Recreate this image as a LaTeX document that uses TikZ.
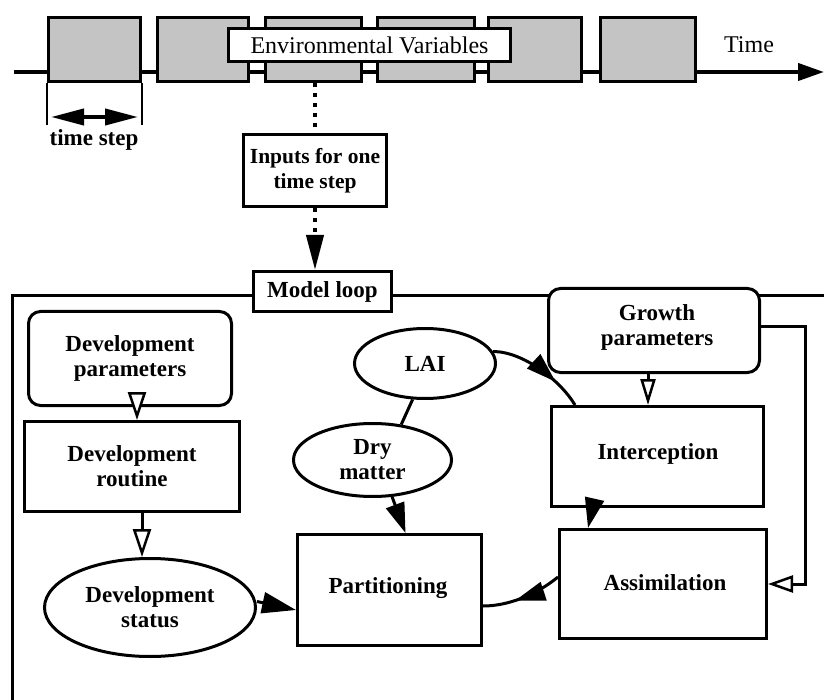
\documentclass[tikz,border=0pt]{standalone}
\usepackage{fontspec}
\setmainfont{Liberation Serif}
\usetikzlibrary{arrows.meta,shapes.geometric,decorations.markings}
\definecolor{boxgray}{HTML}{C4C4C4}
\begin{document}
\begin{tikzpicture}[x=1pt,y=-1pt,
  every node/.style={font=\fontsize{23}{25}\selectfont\bfseries, align=center, inner sep=0pt},
  plain/.style={font=\fontsize{24}{26}\selectfont},
  box/.style={draw, line width=3pt, fill=white, rectangle},
  rbox/.style={box, rounded corners=12pt},
  oval/.style={draw, line width=3pt, fill=white, ellipse},
  gbox/.style={draw, line width=3pt, fill=boxgray, rectangle, minimum height=64pt, minimum width=#1},
  conn/.style={line width=3pt},
  solidtip/.style={conn, -{Triangle[length=30pt,width=19pt]}},
  opentip/.style={conn, -{Triangle[open,fill=white,length=28pt,width=18pt,line width=2.5pt]}},
  dotline/.style={line width=4pt, dash pattern=on 4pt off 6pt},
  midarrow/.style={conn, postaction={decorate}, decoration={markings,
      mark=at position #1 with {\arrow{Triangle[length=30pt,width=19pt]}}}}
]
\useasboundingbox (0,0) rectangle (824,700);

% time line
\coordinate (tlstart) at (14,72);
\coordinate (tlend) at (824,72);
\draw[line width=4pt, -{Triangle[length=26pt,width=17pt]}] (tlstart) -- (tlend);

\node[gbox=92pt] (g1) at (94.5,49.5) {};
\node[gbox=91pt] (g2) at (203,49.5) {};
\node[gbox=96pt] (g3) at (313.5,49.5) {};
\node[gbox=97pt] (g4) at (426,49.5) {};
\node[gbox=93pt] (g5) at (535,49.5) {};
\node[gbox=95pt] (g6) at (648,49.5) {};

\node[box, plain, minimum width=282pt, minimum height=33pt] (env) at (369.5,45) {Environmental Variables};
\node[plain] (timelbl) at (749,45) {Time};

% time step
\draw[line width=1.5pt] (g1.south west) -- ++(0,42);
\draw[line width=1.5pt] (g1.south east) -- ++(0,42);
\coordinate (ts1) at (51,117);
\coordinate (ts2) at (138,117);
\draw[line width=4pt, {Triangle[length=33pt,width=16pt]}-{Triangle[length=33pt,width=16pt]}] (ts1) -- (ts2);
\node (tslbl) at (94,140) {time step};

% inputs
\node[box, minimum width=143pt, minimum height=72pt, font=\fontsize{21.5}{25}\selectfont\bfseries] (inputs) at (315,170.5) {Inputs for one\\time step};
\draw[dotline] (inputs.north |- g3.south) -- (inputs.north);

% frame
\coordinate (fr1) at (12,700);
\coordinate (fr2) at (12,296);
\coordinate (fr3) at (824,296);
\draw[line width=3pt] (fr1) -- (fr2) -- (fr3);

\node[box, minimum width=138pt, minimum height=40pt] (mloop) at (322.5,291.5) {Model loop};
\draw[dotline, -{Triangle[length=35pt,width=17pt]}] (inputs.south) -- (inputs.south |- mloop.north);

% development side
\node[rbox, minimum width=203pt, minimum height=94pt] (dparams) at (130,358.5) {Development\\parameters};
\node[box, minimum width=215pt, minimum height=90pt] (droutine) at (132,466.5) {Development\\routine};
\node[oval, minimum width=211pt, minimum height=98pt] (dstatus) at (150,607.5) {Development\\status};
\node[box, minimum width=184pt, minimum height=111pt] (partition) at (389.5,590) {};
\node (partlbl) at (388,588) {Partitioning};

% growth side
\node[oval, minimum width=158pt, minimum height=73pt] (dry) at (372.5,460) {Dry\\matter};
\node[oval, minimum width=141pt, minimum height=70pt] (lai) at (425,363.5) {LAI};
\node[rbox, minimum width=211pt, minimum height=84pt] (growth) at (654,330.5) {};
\node (growthlbl) at (657,327) {Growth\\parameters};
\node[box, minimum width=212pt, minimum height=100pt] (intercept) at (657.5,456.5) {};
\node (intlbl) at (658,454) {Interception};
\node[box, minimum width=207pt, minimum height=109pt] (assim) at (663,584) {};
\node (assimlbl) at (665,583) {Assimilation};

% connectors
\draw[opentip] ([xshift=7pt]dparams.south) -- ([xshift=5pt]droutine.north);
\draw[opentip] ([xshift=10pt]droutine.south) -- ([xshift=-8pt]dstatus.north);
\draw[conn, -{Triangle[length=34pt,width=21pt]}] ([yshift=6pt]dstatus.east) -- ([yshift=-20pt]partition.west);
\draw[solidtip] (dry.-62) -- ([xshift=16pt]partition.north);
\draw[conn] (lai.-109) -- (dry.51);
\draw[midarrow=0.7] (lai.10) .. controls +(30,0) and +(-15,-25) .. ([xshift=25pt]intercept.north west);
\draw[conn, -{Triangle[open,fill=white,length=26pt,width=15pt,line width=2.5pt]}] ([xshift=-6pt]growth.south) -- ([xshift=-9.5pt]intercept.north);
\draw[solidtip] ([xshift=-65pt]intercept.south) -- ([xshift=-75pt]assim.north);
\draw[midarrow=0.6] ([yshift=7pt]assim.west) .. controls +(-22,18) and +(25,0) .. ([yshift=-16pt]partition.east);
\draw[conn, -{Triangle[open,fill=white,length=25pt,width=17pt,line width=2.5pt]}] ([yshift=3.5pt]growth.east) -- ++(44,0) |- (assim.east);
\end{tikzpicture}
\end{document}
